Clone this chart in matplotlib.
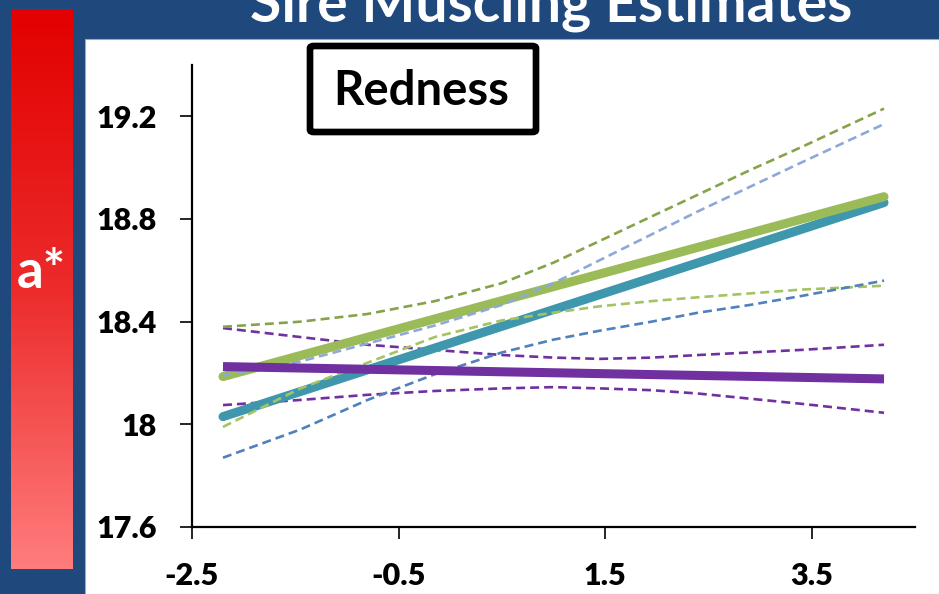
import numpy as np
import matplotlib
matplotlib.use("Agg")
import matplotlib.pyplot as plt
from matplotlib.patches import Rectangle, FancyBboxPatch
from matplotlib.colors import LinearSegmentedColormap

plt.rcParams['font.family'] = ['Lato', 'DejaVu Sans']

# ---- data ----
title = "Sire Muscling Estimates"
panel_label = "Redness"
side_label = "a*"

x_line = [-2.2, 4.2]
green_mean = [18.186, 18.887]
teal_mean = [18.030, 18.864]
purple_mean = [18.225, 18.177]

x_band = [-2.2, -1.45, -0.8, -0.15, 0.5, 1.0, 1.45, 1.95, 2.4, 2.9, 3.4, 4.2]
green_upper = [18.38, 18.40, 18.43, 18.48, 18.55, 18.63, 18.715, 18.81, 18.895, 18.99, 19.08, 19.23]
green_lower = [17.99, 18.14, 18.24, 18.34, 18.405, 18.435, 18.46, 18.48, 18.495, 18.51, 18.525, 18.54]
blue_upper = [18.19, 18.245, 18.315, 18.385, 18.465, 18.55, 18.64, 18.74, 18.83, 18.925, 19.02, 19.17]
blue_lower = [17.87, 17.98, 18.095, 18.195, 18.28, 18.33, 18.365, 18.40, 18.435, 18.465, 18.50, 18.56]
purple_upper = [18.375, 18.34, 18.31, 18.29, 18.27, 18.26, 18.255, 18.26, 18.27, 18.28, 18.29, 18.31]
purple_lower = [18.075, 18.095, 18.115, 18.13, 18.14, 18.145, 18.14, 18.133, 18.12, 18.10, 18.08, 18.045]

x_ticks = [-2.5, -0.5, 1.5, 3.5]
x_ticklabels = ["-2.5", "-0.5", "1.5", "3.5"]
y_ticks = [17.6, 18.0, 18.4, 18.8, 19.2]
y_ticklabels = ["17.6", "18", "18.4", "18.8", "19.2"]

# ---- figure ----
W, H = 939, 594
fig = plt.figure(figsize=(W / 100, H / 100), dpi=100, facecolor="#1F497D")

def fx(px):
    return px / W

def fy(py):
    return 1 - py / H

# white panel (behind everything)
fig.patches.append(Rectangle((fx(85), 0), fx(W - 85), 1 - 39 / H,
                             transform=fig.transFigure, facecolor="white",
                             edgecolor="#8EA9DB", linewidth=0.8, zorder=-5))

# red gradient bar
gax = fig.add_axes([fx(11), fy(569), fx(61), 560 / H])
cmap = LinearSegmentedColormap.from_list("red", ["#E30000", "#EC2B2B", "#FF7D7D"])
grad = np.linspace(0, 1, 256).reshape(-1, 1)
gax.imshow(grad, aspect="auto", cmap=cmap, extent=[0, 1, 0, 1])
gax.set_axis_off()
fig.text(fx(41), fy(288), side_label, color="white", fontsize=38,
         fontweight="bold", ha="center", va="baseline")

# title (clipped at top, as in the original slide)
fig.text(fx(551), fy(21), title, color="white", fontsize=41,
         fontweight="bold", ha="center", va="baseline")

# main axes
ax = fig.add_axes([fx(192), fy(527), fx(915 - 192), (527 - 65) / H])
ax.set_facecolor("none")
ax.set_zorder(2)
ax.set_xlim(-2.5, 4.5)
ax.set_ylim(17.6, 19.4)

dash = (0, (3.4, 1.9))
lw_d = 1.9
ax.plot(x_band, purple_upper, color="#7030A0", lw=lw_d, linestyle=dash, zorder=2)
ax.plot(x_band, purple_lower, color="#7030A0", lw=lw_d, linestyle=dash, zorder=2)
ax.plot(x_line, teal_mean, color="#3F97AE", lw=6.5, solid_capstyle="round", zorder=3)
ax.plot(x_line, green_mean, color="#9BBB59", lw=6.5, solid_capstyle="round", zorder=3)
ax.plot(x_band, green_upper, color="#86A34A", lw=lw_d, linestyle=dash, zorder=4)
ax.plot(x_band, green_lower, color="#A4C463", lw=lw_d, linestyle=dash, zorder=4)
ax.plot(x_band, blue_upper, color="#8EA9D6", lw=lw_d, linestyle=dash, zorder=4)
ax.plot(x_band, blue_lower, color="#4F81BD", lw=lw_d, linestyle=dash, zorder=4)
ax.plot(x_line, purple_mean, color="#7030A0", lw=6.5, solid_capstyle="butt", zorder=5)

for s in ["top", "right"]:
    ax.spines[s].set_visible(False)
for s in ["left", "bottom"]:
    ax.spines[s].set_linewidth(1.6)
    ax.spines[s].set_color("black")

ax.set_xticks(x_ticks)
ax.set_xticklabels(x_ticklabels)
ax.set_yticks(y_ticks)
ax.set_yticklabels(y_ticklabels)
ax.tick_params(axis="both", direction="out", length=8.5, width=1.2,
               colors="black", labelsize=22, pad=17)
for lab in ax.get_xticklabels() + ax.get_yticklabels():
    lab.set_fontweight("heavy")

# Redness box
fig.patches.append(FancyBboxPatch((fx(310), fy(132)), fx(226), (132 - 46) / H,
                                  boxstyle="round,pad=0,rounding_size=0.004",
                                  transform=fig.transFigure, facecolor="white",
                                  edgecolor="black", linewidth=4.8, zorder=6))
fig.text(fx(421), fy(91), panel_label, color="black", fontsize=34,
         fontweight="bold", ha="center", va="center", zorder=7)

fig.savefig("out.png", dpi=100, facecolor=fig.get_facecolor())
